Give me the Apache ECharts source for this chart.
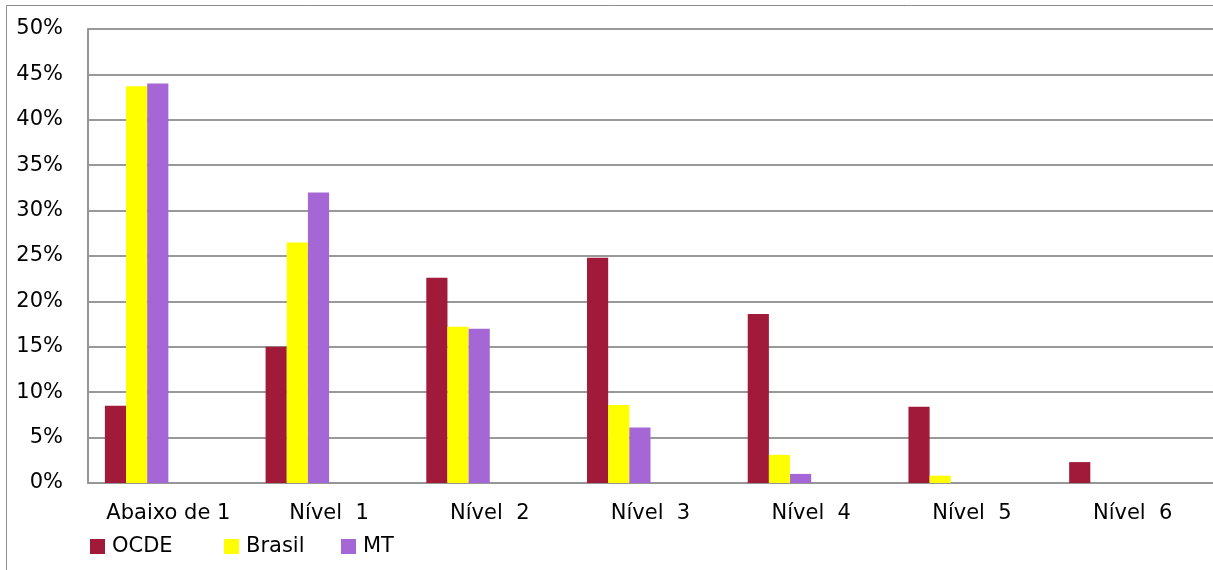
<!DOCTYPE html>
<html><head><meta charset="utf-8">
<script src="https://cdn.jsdelivr.net/npm/echarts@6/dist/echarts.min.js"></script>
<style>html,body{margin:0;padding:0;background:#fff}#c{width:1213px;height:570px}</style>
</head><body><div id="c"></div>
<script>
const categories = ['Abaixo de 1', 'Nível  1', 'Nível  2', 'Nível  3', 'Nível  4', 'Nível  5', 'Nível  6'];
const ocde   = [8.5, 15.0, 22.6, 24.8, 18.6, 8.4, 2.3];
const brasil = [43.7, 26.5, 17.2, 8.6, 3.1, 0.8, 0];
const mt     = [44.0, 32.0, 17.0, 6.1, 1.0, 0, 0];
const seriesNames = ['OCDE', 'Brasil', 'MT'];
const colors = ['#A21A3A', '#FFFF00', '#A566D6'];

const font = 'DejaVu Sans';
const chart = echarts.init(document.getElementById('c'), null, {renderer: 'canvas'});
const mk = (name, data, color) => ({
  name, type: 'bar', data, barGap: '0%', barCategoryGap: '21%',
  itemStyle: {color}, emphasis: {disabled: true}
});
const empty = i => ({ name: 'e' + i, type: 'bar', data: categories.map(() => null), barGap: '0%', barCategoryGap: '21%' });
const legendLefts = [90, 224, 341];
chart.setOption({
  animation: false,
  textStyle: {fontFamily: font},
  graphic: [{
    type: 'polyline', shape: {points: [[6.5, 570], [6.5, 5.5], [1213, 5.5]]},
    style: {stroke: '#8c8c8c', lineWidth: 1, fill: null}
  }],
  grid: {left: 88, top: 29, bottom: 87, right: -5, containLabel: false},
  legend: seriesNames.map((n, i) => ({
    left: legendLefts[i], top: 536, itemWidth: 15, itemHeight: 15, padding: 0,
    data: [n], icon: 'rect',
    textStyle: {fontFamily: font, fontSize: 21, color: '#000', padding: [2,0,0,2]}
  })),
  xAxis: {
    type: 'category', data: categories,
    axisLine: {lineStyle: {color: '#969696', width: 2}},
    axisTick: {show: false},
    axisLabel: {fontFamily: font, fontSize: 21, color: '#000', margin: 20, interval: 0}
  },
  yAxis: {
    type: 'value', min: 0, max: 50, interval: 5,
    axisLine: {show: true, lineStyle: {color: '#969696', width: 2}},
    axisTick: {show: false},
    splitLine: {lineStyle: {color: '#999999', width: 2}},
    axisLabel: {fontFamily: font, fontSize: 21, color: '#000', margin: 25, formatter: '{value}%'}
  },
  series: [mk(seriesNames[0], ocde, colors[0]), mk(seriesNames[1], brasil, colors[1]), mk(seriesNames[2], mt, colors[2]), empty(1), empty(2), empty(3)]
});
</script></body></html>
